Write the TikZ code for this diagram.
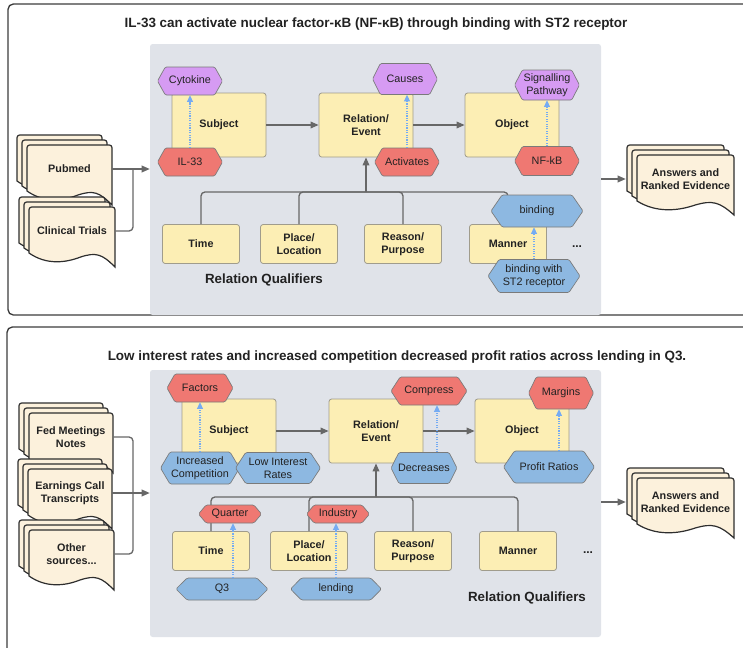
\documentclass[tikz,border=0pt]{standalone}
\usepackage{fontspec}
\setmainfont{Liberation Sans}
\usetikzlibrary{arrows.meta}
\usetikzlibrary{fit}

\definecolor{paneGray}{HTML}{E0E3E9}
\definecolor{boxYellow}{HTML}{FCEEB4}
\definecolor{boxLine}{HTML}{A09C8C}
\definecolor{hexPurple}{HTML}{D69BF3}
\definecolor{hexRed}{HTML}{EF7872}
\definecolor{hexBlue}{HTML}{8DB8E1}
\definecolor{hexLine}{HTML}{7A7A7A}
\definecolor{docCream}{HTML}{FCF1DC}
\definecolor{docLine}{HTML}{2E2E2E}
\definecolor{connGray}{HTML}{676767}
\definecolor{dotBlue}{HTML}{75ABF2}
\definecolor{frameDark}{HTML}{3C3C3C}
\definecolor{inkBlack}{HTML}{222222}

\newcommand{\pxu}{0.75pt}

\tikzset{
  pane/.style={fill=paneGray, rounded corners=2pt, inner sep=0pt},
  mainbox/.style={draw=boxLine, fill=boxYellow, line width=0.6pt, rounded corners=2pt, minimum width=94*\pxu, minimum height=64*\pxu, font=\fontsize{8.1}{9.7}\selectfont\bfseries, text=inkBlack, align=center, inner sep=0pt},
  qualbox/.style={mainbox, minimum width=77*\pxu, minimum height=39*\pxu},
  hexline/.style={draw=hexLine, line width=0.5pt, rounded corners=1pt},
  hextext/.style={font=\fontsize{8.1}{9.7}\selectfont, text=inkBlack, align=center, inner sep=0pt},
  docline/.style={draw=docLine, fill=docCream, line width=0.9pt},
  doctext/.style={font=\fontsize{8.1}{9.7}\selectfont\bfseries, text=inkBlack, align=center, inner sep=0pt},
  conn/.style={draw=connGray, line width=1pt, rounded corners=3pt},
  arr/.style={conn, -{Triangle[length=6pt,width=5pt]}},
  dotarr/.style={draw=dotBlue, line width=0.8pt, dash pattern=on 0.8pt off 1pt, -{Triangle[length=5pt,width=4.5pt]}},
  frame/.style={draw=frameDark, line width=1pt, rounded corners=4pt},
  title/.style={font=\fontsize{10.1}{12}\selectfont\bfseries, text=inkBlack},
  rqlabel/.style={font=\fontsize{10}{12}\selectfont\bfseries, text=inkBlack},
  dots/.style={font=\fontsize{9}{11}\selectfont\bfseries, text=inkBlack}
}

% hexagon: name, centre, width, height, colour, text
\newcommand{\hexa}[6]{%
  \begin{scope}[shift={#2}]
    \filldraw[hexline, fill=#5] ({-#3/2},0) -- ({-#3/2+0.12*#3},{-#4/2}) -- ({#3/2-0.12*#3},{-#4/2}) -- ({#3/2},0) -- ({#3/2-0.12*#3},{#4/2}) -- ({-#3/2+0.12*#3},{#4/2}) -- cycle;
    \node[hextext, minimum width=#3*\pxu, minimum height=#4*\pxu] (#1) at (0,0) {#6};
  \end{scope}
}

% one page: top-left x, y, width
\newcommand{\docpage}[3]{%
  \filldraw[docline] ({#1},{#2+46}) [rounded corners=2pt] -- ({#1},{#2}) -- ({#1+#3},{#2}) [sharp corners] -- ({#1+#3},{#2+60})
    .. controls ({#1+0.85*#3},{#2+47}) and ({#1+0.78*#3},{#2+45}) .. ({#1+0.6*#3},{#2+50})
    .. controls ({#1+0.42*#3},{#2+56}) and ({#1+0.2*#3},{#2+58}) .. ({#1},{#2+46}) -- cycle;
}

% stack of three pages: name, x, y of front page, width, text
\newcommand{\docstack}[5]{%
  \docpage{#2-10}{#3-10}{#4}
  \docpage{#2-5}{#3-5}{#4}
  \docpage{#2}{#3}{#4}
  \node[doctext, minimum width=#4*\pxu] (#1) at ({#2+#4/2},{#3+24}) {#5};
}

\begin{document}
\begin{tikzpicture}[x=0.75pt, y=-0.75pt]
    \useasboundingbox (0,0) rectangle (743,647);

    % biomedical example
    \draw[frame] (760,4) -- (8,4) -- (8,315) -- (760,315);
    \node[pane, fit={(150,44) (601,315)}] (pane1) {};
    \node[title] (title1) at (376,24) {IL-33 can activate nuclear factor-κB (NF-κB) through binding with ST2 receptor};

    \docstack{pubmed}{27}{145}{85}{Pubmed}
    \docstack{trials}{29}{207}{86}{Clinical Trials}
    \coordinate (join1) at (133,169);
    \draw[arr] (pubmed.east) -- (pubmed.east -| pane1.west);
    \draw[conn] (trials.east) -| (join1);

    \node[mainbox] (subj1) at (219,125) {Subject};
    \node[mainbox] (rel1) at (366,125) {Relation/\\Event};
    \node[mainbox] (obj1) at (512,125) {Object};
    \draw[arr] (subj1) -- (rel1);
    \draw[arr] (rel1) -- (obj1);

    \node[qualbox] (time1) at (201,244) {Time};
    \node[qualbox] (place1) at (299,244) {Place/\\Location};
    \node[qualbox] (reason1) at (403,244) {Reason/\\Purpose};
    \node[qualbox] (manner1) at (508,244) {Manner};
    \coordinate (hub1) at (366,192);
    \draw[conn] (time1.north) |- (hub1);
    \draw[conn] (place1.north) |- (hub1);
    \draw[conn] (reason1.north) |- (hub1);
    \draw[conn] (manner1.north) |- (hub1);
    \draw[arr] (hub1) -- (rel1.south);

    \hexa{cyto}{(190,81)}{65}{28}{hexPurple}{Cytokine}
    \hexa{il33}{(190,162)}{65}{28}{hexRed}{IL-33}
    \hexa{causes}{(405,79)}{65}{31}{hexPurple}{Causes}
    \hexa{activ}{(407,162)}{65}{28}{hexRed}{Activates}
    \hexa{sigpath}{(547,85)}{65}{30}{hexPurple}{Signalling\\Pathway}
    \hexa{nfkb}{(547,161)}{65}{29}{hexRed}{NF-kB}
    \hexa{binding}{(537,211)}{92}{32}{hexBlue}{binding}
    \hexa{bindst2}{(534,276)}{92}{33}{hexBlue}{binding with\\ST2 receptor}

    \draw[dotarr] (il33.north) -- (cyto.south);
    \draw[dotarr] (activ.north) -- (activ.north |- causes.south);
    \draw[dotarr] (nfkb.north) -- (sigpath.south);
    \draw[dotarr] (bindst2.north) -- (bindst2.north |- binding.south);

    \node[dots] (more1) at (577,247) {...};
    \node[rqlabel] (rq1) at (264,280) {Relation Qualifiers};

    \docstack{answers1}{637}{155}{97}{Answers and\\Ranked Evidence}
    \draw[arr] (pane1.east |- answers1.west) -- ([xshift=-8.25pt]answers1.west);

    % finance example
    \draw[frame] (760,327) -- (7,327) -- (7,660);
    \node[pane, fit={(150,370) (601,637)}] (pane2) {};
    \node[title] (title2) at (397,357) {Low interest rates and increased competition decreased profit ratios across lending in Q3.};

    \docstack{fed}{29}{413}{84}{Fed Meetings\\Notes}
    \docstack{earnings}{28}{469}{84}{Earnings Call\\Transcripts}
    \docstack{other}{29}{530}{85}{Other\\sources...}
    \coordinate (join2) at (133,493);
    \draw[arr] (earnings.east) -- (earnings.east -| pane2.west);
    \draw[conn] (fed.east) -| (join2);
    \draw[conn] (other.east) -| (join2);

    \node[mainbox] (subj2) at (229,431) {Subject};
    \node[mainbox] (rel2) at (376,431) {Relation/\\Event};
    \node[mainbox] (obj2) at (522,431) {Object};
    \draw[arr] (subj2) -- (rel2);
    \draw[arr] (rel2) -- (obj2);

    \node[qualbox] (time2) at (211,551) {Time};
    \node[qualbox] (place2) at (309,551) {Place/\\Location};
    \node[qualbox] (reason2) at (413,551) {Reason/\\Purpose};
    \node[qualbox] (manner2) at (518,551) {Manner};
    \coordinate (hub2) at (376,497);
    \draw[conn] (time2.north) |- (hub2);
    \draw[conn] (place2.north) |- (hub2);
    \draw[conn] (reason2.north) |- (hub2);
    \draw[conn] (manner2.north) |- (hub2);
    \draw[arr] (hub2) -- (rel2.south);

    \hexa{factors}{(200,388)}{66}{28}{hexRed}{Factors}
    \hexa{incomp}{(200,468)}{79}{32}{hexBlue}{Increased\\Competition}
    \hexa{lowrate}{(278,468)}{85}{31}{hexBlue}{Low Interest\\Rates}
    \hexa{compress}{(429,391)}{76}{28}{hexRed}{Compress}
    \hexa{decrease}{(424,468)}{66}{31}{hexBlue}{Decreases}
    \hexa{margins}{(561,393)}{65}{32}{hexRed}{Margins}
    \hexa{profit}{(549,467)}{91}{32}{hexBlue}{Profit Ratios}
    \hexa{quarter}{(230,514)}{63}{18}{hexRed}{Quarter}
    \hexa{industry}{(338,514)}{63}{18}{hexRed}{Industry}
    \hexa{qthree}{(222,589)}{92}{22}{hexBlue}{Q3}
    \hexa{lending}{(336,589)}{91}{22}{hexBlue}{lending}

    \coordinate (decup) at ([xshift=9.75pt]decrease.north);
    \coordinate (profup) at ([xshift=7.5pt]profit.north);
    \coordinate (qup) at ([xshift=8.25pt]qthree.north);
    \draw[dotarr] (incomp.north) -- (factors.south);
    \draw[dotarr] (decup) -- (decup |- compress.south);
    \draw[dotarr] (profup) -- (profup |- margins.south);
    \draw[dotarr] (qup) -- (qup |- quarter.south);
    \draw[dotarr] (lending.north) -- (lending.north |- industry.south);

    \node[dots] (more2) at (588,553) {...};
    \node[rqlabel] (rq2) at (527,598) {Relation Qualifiers};

    \docstack{answers2}{637}{478}{97}{Answers and\\Ranked Evidence}
    \draw[arr] (pane2.east |- answers2.west) -- ([xshift=-8.25pt]answers2.west);
\end{tikzpicture}
\end{document}
